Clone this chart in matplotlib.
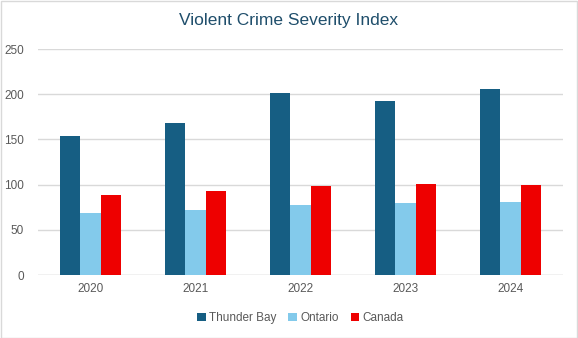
import matplotlib.pyplot as plt
import numpy as np

years = ['2020', '2021', '2022', '2023', '2024']
thunder_bay = [154, 168, 201, 192, 206]
ontario = [69, 72, 77, 80, 81]
canada = [88, 93, 99, 101, 100]

series = [('Thunder Bay', thunder_bay, '#165E83'),
          ('Ontario', ontario, '#83CAEB'),
          ('Canada', canada, '#EE0000')]

plt.rcParams['font.family'] = ['Liberation Sans', 'DejaVu Sans']

fig = plt.figure(figsize=(5.78, 3.38), dpi=100)
ax = fig.add_axes([38 / 578, 1 - 275 / 338, 525 / 578, 226 / 338])

x = np.arange(len(years))
w = 0.195
for i, (name, vals, col) in enumerate(series):
    ax.bar(x + (i - 1) * w, vals, w, color=col, label=name, zorder=3)

ax.set_xlim(-0.5, len(years) - 0.5)
ax.set_ylim(0, 250)
ax.set_yticks(range(0, 251, 50))
ax.set_xticks(x)
ax.set_xticklabels(years)
ax.grid(axis='y', color='#D9D9D9', linewidth=1, zorder=0)
for s in ax.spines.values():
    s.set_visible(False)
ax.axhline(0, color='#D9D9D9', linewidth=1, zorder=2)
ax.tick_params(length=0, colors='#595959', labelsize=8.5)
ax.tick_params(axis='y', pad=10)
ax.tick_params(axis='x', pad=6)

fig.text(0.5, 1 - 20 / 338, 'Violent Crime Severity Index', ha='center', va='center',
         fontsize=12.5, color='#1F4E6B')

ax.legend(loc='center', bbox_to_anchor=(0.5, (1 - 318 / 338 - (1 - 275 / 338)) / (226 / 338)),
          ncol=3, frameon=False, fontsize=8.5, handlelength=0.7, handleheight=0.7,
          handletextpad=0.3, columnspacing=1.0, labelcolor='#595959')

fig.patches.append(plt.Rectangle((0.001, 0.001), 0.997, 0.997, transform=fig.transFigure,
                                 fill=False, edgecolor='#D9D9D9', linewidth=1))

fig.savefig('out.png', dpi=100)
